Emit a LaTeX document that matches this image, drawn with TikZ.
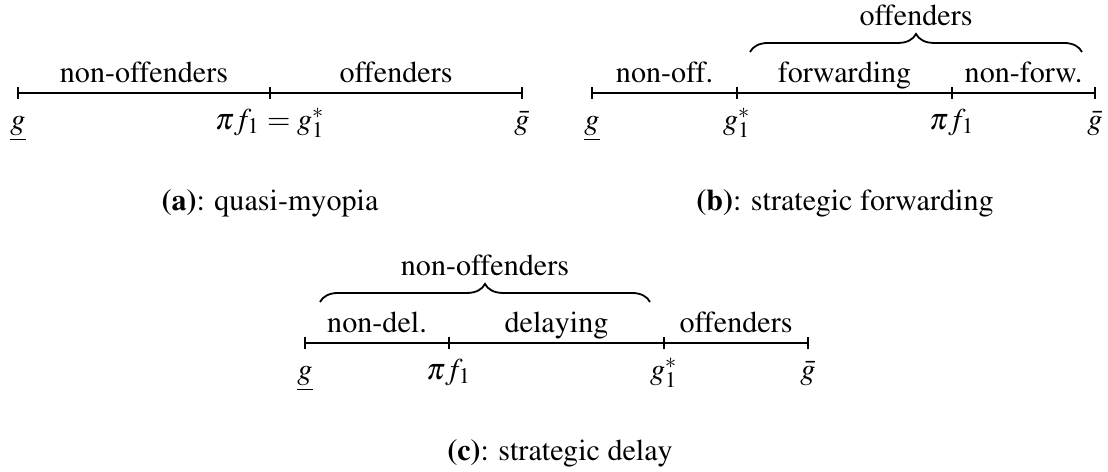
\documentclass[tikz,border=0pt]{standalone}
\usepackage[T1]{fontenc}
\usepackage{mathptmx}
\usetikzlibrary{decorations.pathreplacing}
\tikzset{
  axis/.style={semithick},
  lab/.style={anchor=base,inner sep=0pt},
  brc/.style={semithick,decorate,decoration={brace,amplitude=6pt}}
}
\begin{document}
\begin{tikzpicture}[x=.332pt,y=.332pt]
  \useasboundingbox (0,0) rectangle (1108,471);
  % (a) quasi-myopia
  \coordinate (a0) at (18,378);
  \coordinate (a1) at (270,378);
  \coordinate (a2) at (522,378);
  \draw[axis] (a0)--(a2);
  \foreach \p in {a0,a1,a2}{
    \draw[axis] ([yshift=-2pt]\p)--([yshift=2pt]\p);
  }
  \node[lab] (anon) at (144,389) {non-offenders};
  \node[lab] (aoff) at (396,389) {offenders};
  \node[lab] (alo) at (18,342) {$\underline{g}$};
  \node[lab] (amid) at (270,342) {$\pi f_1=g_1^*$};
  \node[lab] (ahi) at (522,342) {$\bar{g}$};
  \node[lab] (acap) at (270,261) {\textbf{(a)}: quasi-myopia};
  % (b) strategic forwarding
  \coordinate (b0) at (592,378);
  \coordinate (b1) at (737,378);
  \coordinate (b2) at (952,378);
  \coordinate (b3) at (1095,378);
  \draw[axis] (b0)--(b3);
  \foreach \p in {b0,b1,b2,b3}{
    \draw[axis] ([yshift=-2pt]\p)--([yshift=2pt]\p);
  }
  \node[lab] (bnon) at (664.5,389) {non-off.};
  \node[lab] (bfw) at (844.5,389) {forwarding};
  \node[lab] (bnfw) at (1023.5,389) {non-forw.};
  \coordinate (bl) at (750,419);
  \coordinate (br) at (1082,419);
  \draw[brc] (bl)--(br);
  \node[lab] (boff) at (916,446) {offenders};
  \node[lab] (blo) at (592,342) {$\underline{g}$};
  \node[lab] (bst) at (737,342) {$g_1^*$};
  \node[lab] (bpi) at (952,342) {$\pi f_1$};
  \node[lab] (bhi) at (1095,342) {$\bar{g}$};
  \node[lab] (bcap) at (845,261) {\textbf{(b)}: strategic forwarding};
  % (c) strategic delay
  \coordinate (c0) at (305,128);
  \coordinate (c1) at (449,128);
  \coordinate (c2) at (664,128);
  \coordinate (c3) at (808,128);
  \draw[axis] (c0)--(c3);
  \foreach \p in {c0,c1,c2,c3}{
    \draw[axis] ([yshift=-2pt]\p)--([yshift=2pt]\p);
  }
  \node[lab] (cnd) at (377,139) {non-del.};
  \node[lab] (cdel) at (556.5,139) {delaying};
  \node[lab] (coff) at (736,139) {offenders};
  \coordinate (cl) at (320,169);
  \coordinate (cr) at (650,169);
  \draw[brc] (cl)--(cr);
  \node[lab] (cnon) at (485,196) {non-offenders};
  \node[lab] (clo) at (305,92) {$\underline{g}$};
  \node[lab] (cpi) at (449,92) {$\pi f_1$};
  \node[lab] (cst) at (664,92) {$g_1^*$};
  \node[lab] (chi) at (808,92) {$\bar{g}$};
  \node[lab] (ccap) at (560,11) {\textbf{(c)}: strategic delay};
\end{tikzpicture}
\end{document}
